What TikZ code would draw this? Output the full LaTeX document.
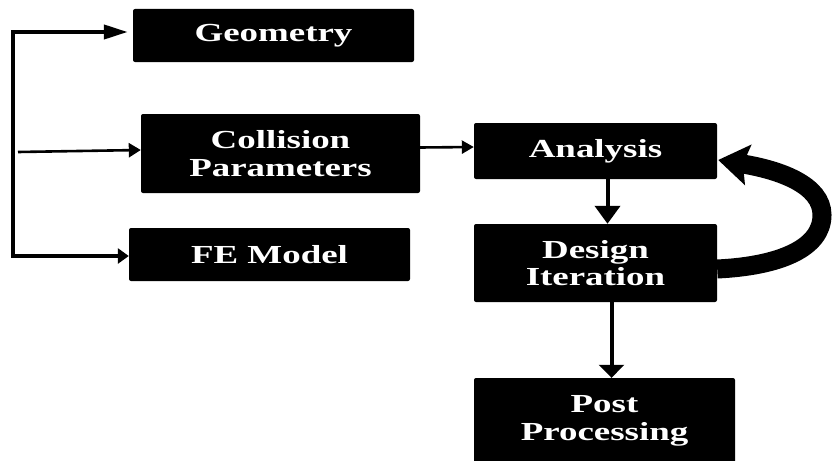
\documentclass[tikz,border=0pt]{standalone}
\usepackage{fontspec}
\setmainfont{Liberation Serif}[FakeStretch=1.42]
\usetikzlibrary{arrows.meta}
\begin{document}
\begin{tikzpicture}[x=1pt,y=-1pt,
  box/.style={fill=black, rounded corners=2pt, text=white,
    font=\bfseries\fontsize{26}{27.5}\selectfont, align=center, inner sep=0pt},
  spine/.style={line width=4pt, line join=miter},
  thinarrow/.style={line width=2.6pt},
  vertarrow/.style={line width=4pt},
  loop/.style={line width=19pt}
]
\useasboundingbox (0,0) rectangle (834,460);

\node[box, minimum width=281pt, minimum height=53pt] (geo) at (273.5,35.5) {Geometry};
\node[box, minimum width=279pt, minimum height=79pt] (coll) at (280.5,153.5) {Collision\\Parameters};
\node[box, minimum width=281pt, minimum height=53pt] (fe) at (269.5,254.5) {FE Model};
\node[box, minimum width=243pt, minimum height=56pt] (ana) at (595.5,151) {Analysis};
\node[box, minimum width=243pt, minimum height=78pt] (des) at (595.5,263) {Design\\Iteration};
\node[box, minimum width=261pt, minimum height=86pt] (post) at (604.5,421) {Post\\Processing};

\coordinate (spt) at (12.5,32);
\coordinate (spb) at (12.5,256);
\coordinate (mid) at (18,152);

\draw[spine, line cap=rect, -{Triangle[length=24pt,width=14pt]}, shorten >=5pt]
  (spb) -- (spt) -- ([yshift=3.5pt]geo.west);
\draw[spine, line cap=rect, -{Triangle[length=11pt,width=15pt]}]
  (spb) -- ([yshift=-1.5pt]fe.west);
\draw[thinarrow, -{Triangle[length=12pt,width=14pt]}]
  (mid) -- ([yshift=3.5pt]coll.west);
\draw[thinarrow, -{Triangle[length=12pt,width=13pt]}]
  ([yshift=6pt]coll.east) -- ([yshift=4pt]ana.west);
\draw[vertarrow, -{Triangle[length=18pt,width=25pt]}]
  ([xshift=12pt]ana.south) -- ([xshift=12pt]ana.south |- des.north);
\draw[vertarrow, -{Triangle[length=13pt,width=25pt]}]
  ([xshift=16pt]des.south) -- ([xshift=16pt]des.south |- post.north);
\draw[loop, -{Stealth[length=30pt,width=40pt,inset=5pt]}]
  ([yshift=-6pt]des.east) .. controls (780,266) and (822,248) .. (822,215)
  .. controls (822,185) and (780,170) .. ([yshift=-9pt,xshift=1pt]ana.east);
\end{tikzpicture}
\end{document}
